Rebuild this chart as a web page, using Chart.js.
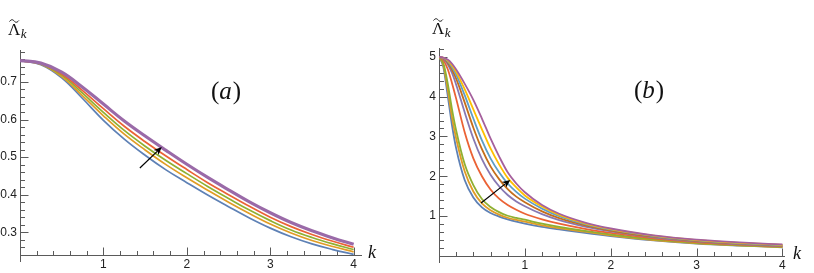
<!DOCTYPE html>
<html><head><meta charset="utf-8">
<script src="https://cdn.jsdelivr.net/npm/chart.js@4.4.1/dist/chart.umd.min.js"></script>
<style>
body{margin:0;background:#fff;width:814px;height:273px;overflow:hidden;position:relative}
#ca{position:absolute;left:0;top:0}
#cb{position:absolute;left:410px;top:0}
</style></head><body>
<canvas id="ca" width="410" height="273"></canvas>
<canvas id="cb" width="404" height="273"></canvas>
<script>
// ---------- Panel (a) data ----------
const kA = [0,0.25,0.5,0.75,1,1.25,1.5,1.75,2,2.25,2.5,2.75,3,3.25,3.5,3.75,4];
const aBlue   = [0.757,0.746,0.711,0.656,0.598,0.548,0.505,0.466,0.432,0.399,0.368,0.338,0.311,0.288,0.269,0.254,0.241];
const aOrange = [0.757,0.747,0.714,0.663,0.610,0.561,0.519,0.480,0.445,0.412,0.380,0.350,0.322,0.298,0.278,0.262,0.248];
const aGreen  = [0.757,0.748,0.718,0.670,0.619,0.571,0.529,0.491,0.456,0.422,0.390,0.359,0.331,0.306,0.286,0.269,0.254];
const aRed    = [0.757,0.749,0.721,0.677,0.629,0.582,0.541,0.503,0.467,0.432,0.400,0.369,0.340,0.315,0.294,0.276,0.260];
const aPurple = [0.757,0.750,0.726,0.686,0.641,0.596,0.556,0.518,0.481,0.446,0.413,0.381,0.352,0.326,0.304,0.285,0.268];
const xTicksA = [1,2,3,4];
const yTicksA = [0.3,0.4,0.5,0.6,0.7];

// ---------- Panel (b) data ----------
const kB = [0,0.05,0.1,0.15,0.2,0.3,0.4,0.5,0.6,0.7,0.8,0.9,1.0,1.2,1.4,1.7,2.0,2.5,3.0,3.5,4.0];
const bBlue   = [5.0,4.75,4.05,3.3,2.7,1.9,1.47,1.22,1.08,0.99,0.92,0.86,0.81,0.73,0.67,0.58,0.50,0.39,0.31,0.26,0.22];
const bOrange = [5.0,4.8,4.2,3.5,2.95,2.12,1.62,1.32,1.15,1.04,0.96,0.905,0.86,0.77,0.70,0.61,0.52,0.40,0.32,0.265,0.225];
const bGreen  = [5.0,4.84,4.35,3.7,3.15,2.3,1.78,1.43,1.23,1.1,1.01,0.955,0.91,0.81,0.73,0.63,0.54,0.415,0.33,0.27,0.23];
const bRed    = [5.0,4.92,4.7,4.35,3.95,3.1,2.45,2.0,1.67,1.44,1.28,1.16,1.06,0.92,0.81,0.68,0.58,0.445,0.35,0.285,0.24];
const bPurple = [5.0,4.95,4.82,4.6,4.3,3.6,2.95,2.43,2.04,1.75,1.53,1.37,1.25,1.05,0.90,0.74,0.62,0.47,0.37,0.30,0.255];
const bBrown  = [5.0,4.96,4.86,4.68,4.45,3.85,3.22,2.68,2.25,1.93,1.68,1.49,1.35,1.12,0.95,0.77,0.64,0.485,0.38,0.31,0.265];
const bLBlue  = [5.0,4.97,4.89,4.74,4.55,4.03,3.45,2.9,2.45,2.1,1.82,1.61,1.44,1.19,1.0,0.80,0.66,0.50,0.39,0.32,0.275];
const bYellow = [5.0,4.975,4.91,4.79,4.62,4.18,3.68,3.18,2.7,2.3,1.96,1.72,1.52,1.24,1.03,0.82,0.675,0.51,0.40,0.33,0.28];
const bMagenta= [5.0,4.98,4.93,4.83,4.68,4.32,3.92,3.45,2.95,2.5,2.1,1.82,1.6,1.28,1.06,0.84,0.69,0.52,0.41,0.34,0.29];
const xTicksB = [1,2,3,4];
const yTicksB = [1,2,3,4,5];

const palette = ['#5E81B5','#E19C24','#8FB032','#EB6235','#8778B3','#C56E1A','#5D9EC7','#FFBF00','#A5609D'];

function ds(k, vals, color, w, order, smooth){
  const d = {data: k.map((x,i)=>({x:x,y:vals[i]})), borderColor: color, borderWidth: w,
    pointRadius: 0, fill:false, order: order};
  if (smooth === 'monotone') d.cubicInterpolationMode = 'monotone';
  else d.tension = 0.4;
  return d;
}

const axesPlugin = {
  id:'mmaAxes',
  beforeDatasetsDraw(chart){
    const o = chart.options.plugins.mmaAxes;
    const {ctx, chartArea:a, scales:{x,y}} = chart;
    ctx.save();
    ctx.strokeStyle = '#5a5a5a'; ctx.lineWidth = 1;
    ctx.beginPath();
    const yb = Math.round(a.bottom)+0.5, xl = Math.round(a.left)+0.5;
    ctx.moveTo(a.left, yb); ctx.lineTo(a.right, yb);
    ctx.moveTo(xl, a.top); ctx.lineTo(xl, a.bottom+7);
    for (let v=o.xMinor; v<=x.max+1e-9; v+=o.xMinor){
      const major = Math.abs(v-Math.round(v))<1e-6;
      const px = Math.round(x.getPixelForValue(v))+0.5;
      ctx.moveTo(px, yb); ctx.lineTo(px, yb-(major?8:4.5));
    }
    const start = Math.ceil(y.min/o.yMinor-1e-6)*o.yMinor;
    for (let i=0; start+i*o.yMinor<=y.max+1e-9; i++){
      const v = start+i*o.yMinor;
      const major = Math.abs(v/o.yMajor-Math.round(v/o.yMajor))<1e-6;
      const py = Math.round(y.getPixelForValue(v))+0.5;
      if (Math.abs(py-yb)<1) continue;
      ctx.moveTo(xl, py); ctx.lineTo(xl+(major?8:4.5), py);
    }
    ctx.stroke();
    ctx.restore();
  },
  afterDraw(chart){
    const o = chart.options.plugins.mmaAxes;
    const {ctx, scales:{x,y}} = chart;
    ctx.save();
    ctx.fillStyle = '#111';
    const L = o.lam;
    ctx.font = '17px "Liberation Serif"';
    ctx.textBaseline = 'alphabetic';
    ctx.fillText('\u039B', L[0], L[1]);
    const lw = ctx.measureText('\u039B').width;
    ctx.strokeStyle = '#111'; ctx.lineWidth = 1;
    ctx.beginPath();
    const tx = L[0]+1.5, ty = L[1]-14.5, tw = lw-3;
    ctx.moveTo(tx, ty+1);
    ctx.bezierCurveTo(tx+tw*0.25, ty-2, tx+tw*0.4, ty-0.5, tx+tw*0.5, ty+0.5);
    ctx.bezierCurveTo(tx+tw*0.6, ty+1.5, tx+tw*0.75, ty+3, tx+tw, ty);
    ctx.stroke();
    ctx.font = 'italic 13px "Liberation Serif"';
    ctx.fillText('k', L[0]+lw+0.5, L[1]+3);
    ctx.font = 'italic 18px "Liberation Serif"';
    ctx.fillText('k', o.klab[0], o.klab[1]);
    ctx.font = '25px "Liberation Serif"';
    let px = o.pan[0];
    ctx.fillText('(', px, o.pan[1]); px += ctx.measureText('(').width;
    ctx.font = 'italic 25px "Liberation Serif"';
    ctx.fillText(o.panLetter, px, o.pan[1]); px += ctx.measureText(o.panLetter).width + 1;
    ctx.font = '25px "Liberation Serif"';
    ctx.fillText(')', px, o.pan[1]);
    const x0 = x.getPixelForValue(o.arrow[0]), y0 = y.getPixelForValue(o.arrow[1]);
    const x1 = x.getPixelForValue(o.arrow[2]), y1 = y.getPixelForValue(o.arrow[3]);
    const ang = Math.atan2(y1-y0, x1-x0);
    const hl = 8, hw = 3.5;
    const bx = x1 - hl*Math.cos(ang), by = y1 - hl*Math.sin(ang);
    ctx.strokeStyle = '#000'; ctx.lineWidth = 1.2;
    ctx.beginPath(); ctx.moveTo(x0,y0); ctx.lineTo(bx+2*Math.cos(ang),by+2*Math.sin(ang)); ctx.stroke();
    ctx.fillStyle = '#000';
    ctx.beginPath();
    ctx.moveTo(x1,y1);
    ctx.lineTo(bx - hw*Math.sin(ang), by + hw*Math.cos(ang));
    ctx.lineTo(bx + 2*Math.cos(ang), by + 2*Math.sin(ang));
    ctx.lineTo(bx + hw*Math.sin(ang), by - hw*Math.cos(ang));
    ctx.closePath(); ctx.fill();
    ctx.restore();
  }
};

function makeChart(id, datasets, sc, pad, axW, axH, plug){
  return new Chart(document.getElementById(id), {
    type:'line',
    data:{datasets: datasets},
    options:{
      responsive:false, animation:false, devicePixelRatio:1,
      layout:{padding:pad},
      plugins:{legend:{display:false}, tooltip:{enabled:false}, mmaAxes: plug},
      scales:{
        x:{type:'linear', min:sc.xmin, max:sc.xmax,
           grid:{display:false, drawTicks:false}, border:{display:false},
           ticks:{font:{family:'"Liberation Sans"', size:12}, color:'#222', padding:2, maxRotation:0,
                  callback:v=>String(v)},
           afterBuildTicks:s=>{s.ticks = sc.xt.map(v=>({value:v}));},
           afterFit:s=>{s.height = axH;}},
        y:{type:'linear', min:sc.ymin, max:sc.ymax,
           grid:{display:false, drawTicks:false}, border:{display:false},
           ticks:{font:{family:'"Liberation Sans"', size:12}, color:'#222', padding:3,
                  callback:v=>String(+v.toFixed(2))},
           afterBuildTicks:s=>{s.ticks = sc.yt.map(v=>({value:v}));},
           afterFit:s=>{s.width = axW;}}
      }
    },
    plugins:[axesPlugin]
  });
}

const seriesA = [aBlue,aOrange,aGreen,aRed,aPurple];
const dsA = seriesA.map((s,i)=>ds(kA, s, palette[i], i===4?3.2:1.7, seriesA.length-1-i, 'tension'));
dsA[4].borderColor = '#9A6AA8';
makeChart('ca', dsA,
  {xmin:0, xmax:4.1, ymin:0.2395, ymax:0.785, xt:xTicksA, yt:yTicksA},
  {top:50, right:48, left:0, bottom:0}, 20, 18,
  {xMinor:0.2, yMinor:0.02, yMajor:0.1, lam:[8,35], klab:[368,258], pan:[211,99], panLetter:'a',
   arrow:[1.437,0.471,1.70,0.527]});

const seriesB = [bBlue,bOrange,bGreen,bRed,bPurple,bBrown,bLBlue,bYellow,bMagenta];
const dsB = seriesB.map((s,i)=>ds(kB, s, palette[i], 1.8, seriesB.length-1-i, 'monotone'));
makeChart('cb', dsB,
  {xmin:0, xmax:4.03, ymin:0, ymax:5.22, xt:xTicksB, yt:yTicksB},
  {top:48, right:29, left:0, bottom:0}, 29, 17,
  {xMinor:0.2, yMinor:0.2, yMajor:1, lam:[22,34], klab:[383,259], pan:[224,98], panLetter:'b',
   arrow:[0.49,1.33,0.83,1.91]});
</script>
</body></html>
